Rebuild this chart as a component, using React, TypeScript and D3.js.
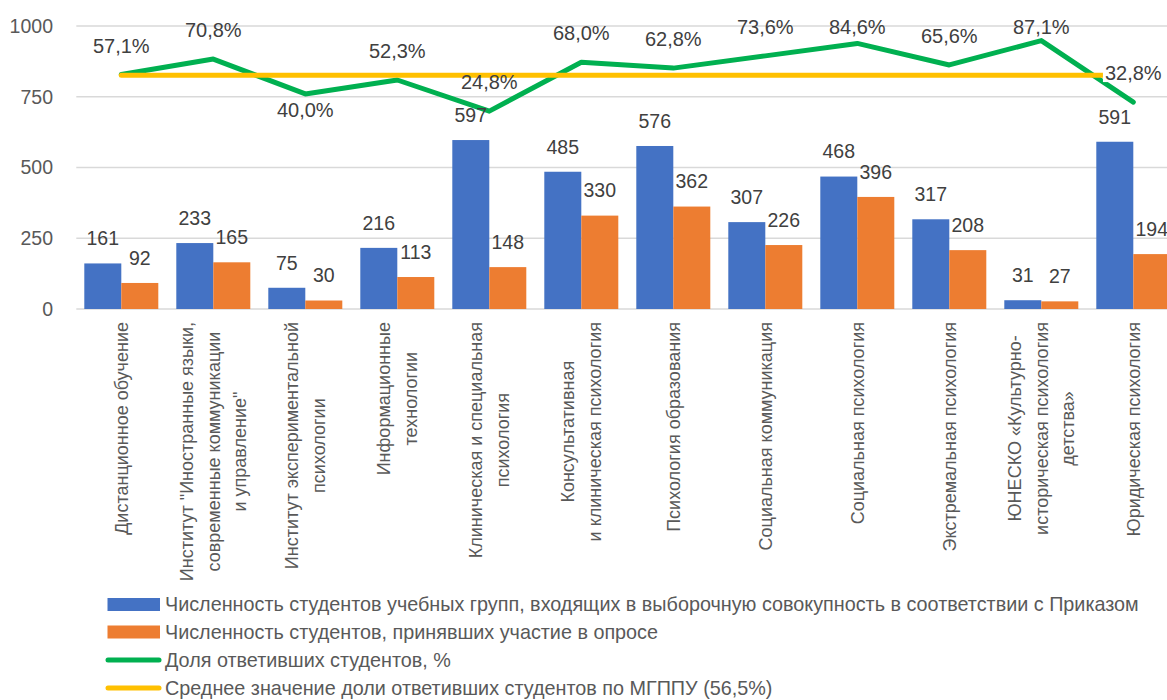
import React, { useEffect, useRef } from 'react';
import * as d3 from 'd3';

// Chart data
const categories = [
  'Дистанционное обучение',
  'Институт "Иностранные языки, современные коммуникации и управление"',
  'Институт экспериментальной психологии',
  'Информационные технологии',
  'Клиническая и специальная психология',
  'Консультативная и клиническая психология',
  'Психология образования',
  'Социальная коммуникация',
  'Социальная психология',
  'Экстремальная психология',
  'ЮНЕСКО «Культурно-историческая психология детства»',
  'Юридическая психология',
];

const categoryLines: string[][] = [
  ['Дистанционное обучение'],
  ['Институт "Иностранные языки,', 'современные коммуникации', 'и управление"'],
  ['Институт экспериментальной', 'психологии'],
  ['Информационные', 'технологии'],
  ['Клиническая и специальная', 'психология'],
  ['Консультативная', 'и клиническая психология'],
  ['Психология образования'],
  ['Социальная коммуникация'],
  ['Социальная психология'],
  ['Экстремальная психология'],
  ['ЮНЕСКО «Культурно-', 'историческая психология', 'детства»'],
  ['Юридическая психология'],
];

const enrolled = [161, 233, 75, 216, 597, 485, 576, 307, 468, 317, 31, 591];
const responded = [92, 165, 30, 113, 148, 330, 362, 226, 396, 208, 27, 194];
const share = [57.1, 70.8, 40.0, 52.3, 24.8, 68.0, 62.8, 73.6, 84.6, 65.6, 87.1, 32.8];
const shareLabelSide = ['above', 'above', 'below', 'above', 'above', 'above', 'above', 'above', 'above', 'above', 'above', 'above'];
const averageShare = 56.5;

const yTicks = [0, 250, 500, 750, 1000];

const legendItems = [
  { label: 'Численность студентов учебных групп, входящих в выборочную совокупность в соответствии с Приказом', type: 'rect', color: '#4472C4' },
  { label: 'Численность студентов, принявших участие в опросе', type: 'rect', color: '#ED7D31' },
  { label: 'Доля ответивших студентов, %', type: 'line', color: '#00B050' },
  { label: 'Среднее значение доли ответивших студентов по МГППУ (56,5%)', type: 'line', color: '#FFC000' },
];

const W = 1167;
const H = 700;
const FONT = '"Liberation Sans", Arial, sans-serif';

const fmtPct = (v: number) => v.toFixed(1).replace('.', ',') + '%';

const App: React.FC = () => {
  const svgRef = useRef<SVGSVGElement>(null);

  useEffect(() => {
    if (!svgRef.current) return;
    const svg = d3.select(svgRef.current);
    svg.selectAll('*').remove();

    const top = 26;
    const bottom = 309;
    const left = 75.3;
    const step = 92;

    const x = d3.scaleBand<string>()
      .domain(categories)
      .range([left, left + step * categories.length])
      .paddingInner(18 / 92)
      .paddingOuter(9 / 92);

    const xSub = d3.scaleBand<string>()
      .domain(['enrolled', 'responded'])
      .range([0, x.bandwidth()]);

    const y = d3.scaleLinear().domain([0, 1000]).range([bottom, top]);
    // hidden secondary axis for the percentage lines
    const y2 = d3.scaleLinear().domain([-150, 100]).range([bottom, top]);

    const center = (i: number) => (x(categories[i]) as number) + x.bandwidth() / 2;

    // Gridlines
    svg.append('g')
      .selectAll('line')
      .data(yTicks)
      .join('line')
      .attr('x1', left + 1)
      .attr('x2', left + step * categories.length)
      .attr('y1', d => y(d))
      .attr('y2', d => y(d))
      .attr('stroke', '#D9D9D9')
      .attr('stroke-width', 1.5);

    // Y tick labels
    svg.append('g')
      .selectAll('text')
      .data(yTicks)
      .join('text')
      .attr('x', 53)
      .attr('y', d => y(d))
      .attr('dy', '0.35em')
      .attr('text-anchor', 'end')
      .attr('font-family', FONT)
      .attr('font-size', 19.5)
      .attr('fill', '#595959')
      .text(d => d);

    // Bars
    const series = [
      { key: 'enrolled', values: enrolled, color: '#4472C4' },
      { key: 'responded', values: responded, color: '#ED7D31' },
    ];
    series.forEach(s => {
      svg.append('g')
        .selectAll('rect')
        .data(s.values)
        .join('rect')
        .attr('x', (d, i) => (x(categories[i]) as number) + (xSub(s.key) as number))
        .attr('y', d => y(d))
        .attr('width', xSub.bandwidth())
        .attr('height', d => y(0) - y(d))
        .attr('fill', s.color);
    });

    // Lines
    const line = d3.line<number>()
      .x((d, i) => center(i))
      .y(d => y2(d));

    svg.append('path')
      .datum(share)
      .attr('d', line)
      .attr('fill', 'none')
      .attr('stroke', '#00B050')
      .attr('stroke-width', 5)
      .attr('stroke-linecap', 'round')
      .attr('stroke-linejoin', 'round');

    svg.append('path')
      .datum(share.map(() => averageShare))
      .attr('d', line)
      .attr('fill', 'none')
      .attr('stroke', '#FFC000')
      .attr('stroke-width', 5)
      .attr('stroke-linecap', 'round');

    // Bar value labels
    series.forEach(s => {
      svg.append('g')
        .selectAll('text')
        .data(s.values)
        .join('text')
        .attr('x', (d, i) => (x(categories[i]) as number) + (xSub(s.key) as number) + xSub.bandwidth() / 2)
        .attr('y', d => y(d) - 25)
        .attr('dy', '0.35em')
        .attr('text-anchor', 'middle')
        .attr('font-family', FONT)
        .attr('font-size', 19.5)
        .attr('fill', '#404040')
        .text(d => d);
    });

    // Percent labels
    const pctG = svg.append('g');
    share.forEach((v, i) => {
      const cy = shareLabelSide[i] === 'above'
        ? Math.max(y2(v) - 29, top + 1)
        : y2(v) + 16;
      const g = pctG.append('g');
      const bg = g.append('rect').attr('fill', '#fff');
      const t = g.append('text')
        .attr('x', center(i))
        .attr('y', cy)
        .attr('dy', '0.35em')
        .attr('text-anchor', 'middle')
        .attr('font-family', FONT)
        .attr('font-size', 20)
        .attr('fill', '#404040')
        .text(fmtPct(v));
      // the end label sits on the average line and masks it
      if (i === share.length - 1) {
        const w = (t.node() as SVGTextElement).getComputedTextLength();
        bg.attr('x', center(i) - w / 2 - 2)
          .attr('y', cy - 9)
          .attr('width', w + 4)
          .attr('height', 18);
      }
    });

    // Category labels (rotated)
    const labelTop = 322;
    const lineGap = 26.5;
    categoryLines.forEach((lines, i) => {
      const g = svg.append('g')
        .attr('transform', `translate(${center(i)},${labelTop}) rotate(-90)`);
      const texts = lines.map((ln, j) => g.append('text')
        .attr('y', (j - (lines.length - 1) / 2) * lineGap)
        .attr('dy', '0.35em')
        .attr('text-anchor', 'middle')
        .attr('font-family', FONT)
        .attr('font-size', 18)
        .attr('fill', '#595959')
        .text(ln));
      const maxW = d3.max(texts, t => (t.node() as SVGTextElement).getComputedTextLength()) || 0;
      texts.forEach(t => t.attr('x', -maxW / 2));
    });

    // Legend
    const legendY = [604.5, 632, 660, 688];
    legendItems.forEach((item, i) => {
      const cy = legendY[i];
      if (item.type === 'rect') {
        svg.append('rect')
          .attr('x', 107.5)
          .attr('y', cy - 6.5)
          .attr('width', 52.5)
          .attr('height', 13)
          .attr('fill', item.color);
      } else {
        svg.append('line')
          .attr('x1', 108)
          .attr('x2', 159)
          .attr('y1', cy)
          .attr('y2', cy)
          .attr('stroke', item.color)
          .attr('stroke-width', 5)
          .attr('stroke-linecap', 'round');
      }
      svg.append('text')
        .attr('x', 165)
        .attr('y', cy)
        .attr('dy', '0.35em')
        .attr('font-family', FONT)
        .attr('font-size', 19.8)
        .attr('fill', '#595959')
        .text(item.label);
    });
  }, []);

  return (
    <svg
      ref={svgRef}
      width={W}
      height={H}
      style={{ position: 'absolute', left: 0, top: 0, background: '#fff' }}
    />
  );
};

export default App;
